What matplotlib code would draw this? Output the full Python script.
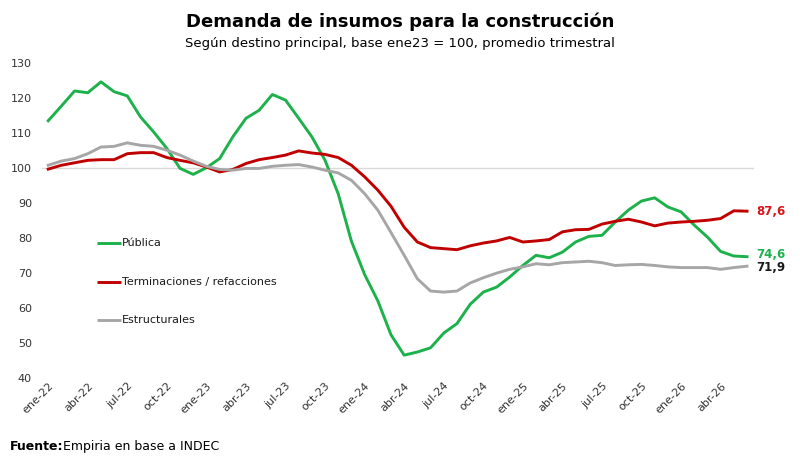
import numpy as np
import matplotlib.pyplot as plt

# ========== Datos (ene-22 a jun-26, mensual) ==========
meses = ['ene', 'feb', 'mar', 'abr', 'may', 'jun', 'jul', 'ago', 'sep', 'oct', 'nov', 'dic']
fechas = [f'{m}-{a}' for a in range(22, 27) for m in meses][:54]

publica = [113.4, 117.6, 121.9, 121.4, 124.5, 121.7, 120.5, 114.5, 110.2, 105.5,
           99.8, 98.1, 100.0, 102.6, 108.8, 114.1, 116.4, 120.9, 119.3, 114.1,
           108.8, 102.1, 92.5, 79.0, 69.5, 62.0, 52.3, 46.5, 47.4, 48.6,
           52.8, 55.5, 61.0, 64.5, 65.9, 68.8, 72.1, 75.0, 74.3, 75.9,
           78.8, 80.4, 80.7, 84.5, 87.9, 90.5, 91.4, 88.8, 87.4, 83.6,
           80.2, 76.1, 74.8, 74.6]
terminaciones = [99.6, 100.7, 101.4, 102.1, 102.3, 102.3, 104.0, 104.3, 104.3, 102.9,
                 102.1, 101.4, 100.2, 98.8, 99.5, 101.2, 102.3, 102.9, 103.6, 104.8,
                 104.2, 103.8, 102.9, 100.7, 97.4, 93.6, 89.0, 83.0, 78.8, 77.2,
                 76.9, 76.6, 77.7, 78.5, 79.1, 80.1, 78.8, 79.1, 79.5, 81.7,
                 82.3, 82.4, 83.9, 84.7, 85.3, 84.5, 83.4, 84.2, 84.5, 84.7,
                 85.0, 85.5, 87.7, 87.6]
estructurales = [100.7, 101.9, 102.6, 104.0, 105.9, 106.1, 107.1, 106.4, 106.1, 105.0,
                 103.6, 101.9, 100.4, 99.5, 99.3, 99.8, 99.8, 100.4, 100.7, 100.9,
                 100.2, 99.3, 98.5, 96.4, 92.6, 87.9, 81.5, 75.0, 68.3, 64.8,
                 64.5, 64.8, 67.1, 68.6, 69.9, 71.0, 71.7, 72.6, 72.3, 72.9,
                 73.1, 73.3, 72.9, 72.1, 72.3, 72.4, 72.1, 71.7, 71.5, 71.5,
                 71.5, 71.0, 71.5, 71.9]

series = [
    ('Pública', publica, '#1DB14B'),
    ('Terminaciones / refacciones', terminaciones, '#C00000'),
    ('Estructurales', estructurales, '#A6A6A6'),
]
etiquetas_fin = [('87,6', 87.4, '#D9141B'), ('74,6', 75.2, '#1DB14B'), ('71,9', 71.6, '#1a1a1a')]
leyenda_y = [78.4, 67.5, 56.4]

# ========== Gráfico ==========
fig = plt.figure(figsize=(8, 4.57), dpi=100)
ax = fig.add_axes([0.052, 0.173, 0.89, 0.69])

x = np.arange(len(fechas))
for nombre, vals, color in series:
    ax.plot(x, vals, color=color, linewidth=2.1, solid_joinstyle='round')

ax.axhline(100, color='#D9D9D9', linewidth=1, zorder=0)
ax.set_xlim(-0.5, len(fechas) - 0.5)
ax.set_ylim(40, 130)
ax.set_yticks(range(40, 131, 10))
ax.set_xticks(x[::3])
ax.set_xticklabels(fechas[::3], rotation=45, ha='right', va='top',
                   rotation_mode='anchor', fontsize=8, color='#333333')
ax.tick_params(axis='y', labelsize=8, colors='#333333', length=0, pad=7)
ax.tick_params(axis='x', length=0, pad=2)
for s in ax.spines.values():
    s.set_visible(False)

# leyenda dentro del gráfico
for (nombre, vals, color), yy in zip(series, leyenda_y):
    ax.plot([3.7, 5.5], [yy, yy], color=color, linewidth=2.1, solid_capstyle='butt')
    ax.text(5.6, yy, nombre, fontsize=8, va='center', color='#1a1a1a')

# valores finales
for txt, yv, color in etiquetas_fin:
    ax.annotate(txt, xy=(len(fechas) - 1, yv), xytext=(7, 0), textcoords='offset points',
                fontsize=8.5, fontweight='bold', color=color, va='center')

fig.text(0.5, 0.952, 'Demanda de insumos para la construcción', ha='center', va='center',
         fontsize=13, fontweight='bold')
fig.text(0.5, 0.905, 'Según destino principal, base ene23 = 100, promedio trimestral',
         ha='center', va='center', fontsize=9.5)
fig.text(0.012, 0.022, 'Fuente:', fontsize=9, fontweight='bold', va='center')
fig.text(0.079, 0.022, 'Empiria en base a INDEC', fontsize=9, va='center')

fig.savefig('out.png', dpi=100)
